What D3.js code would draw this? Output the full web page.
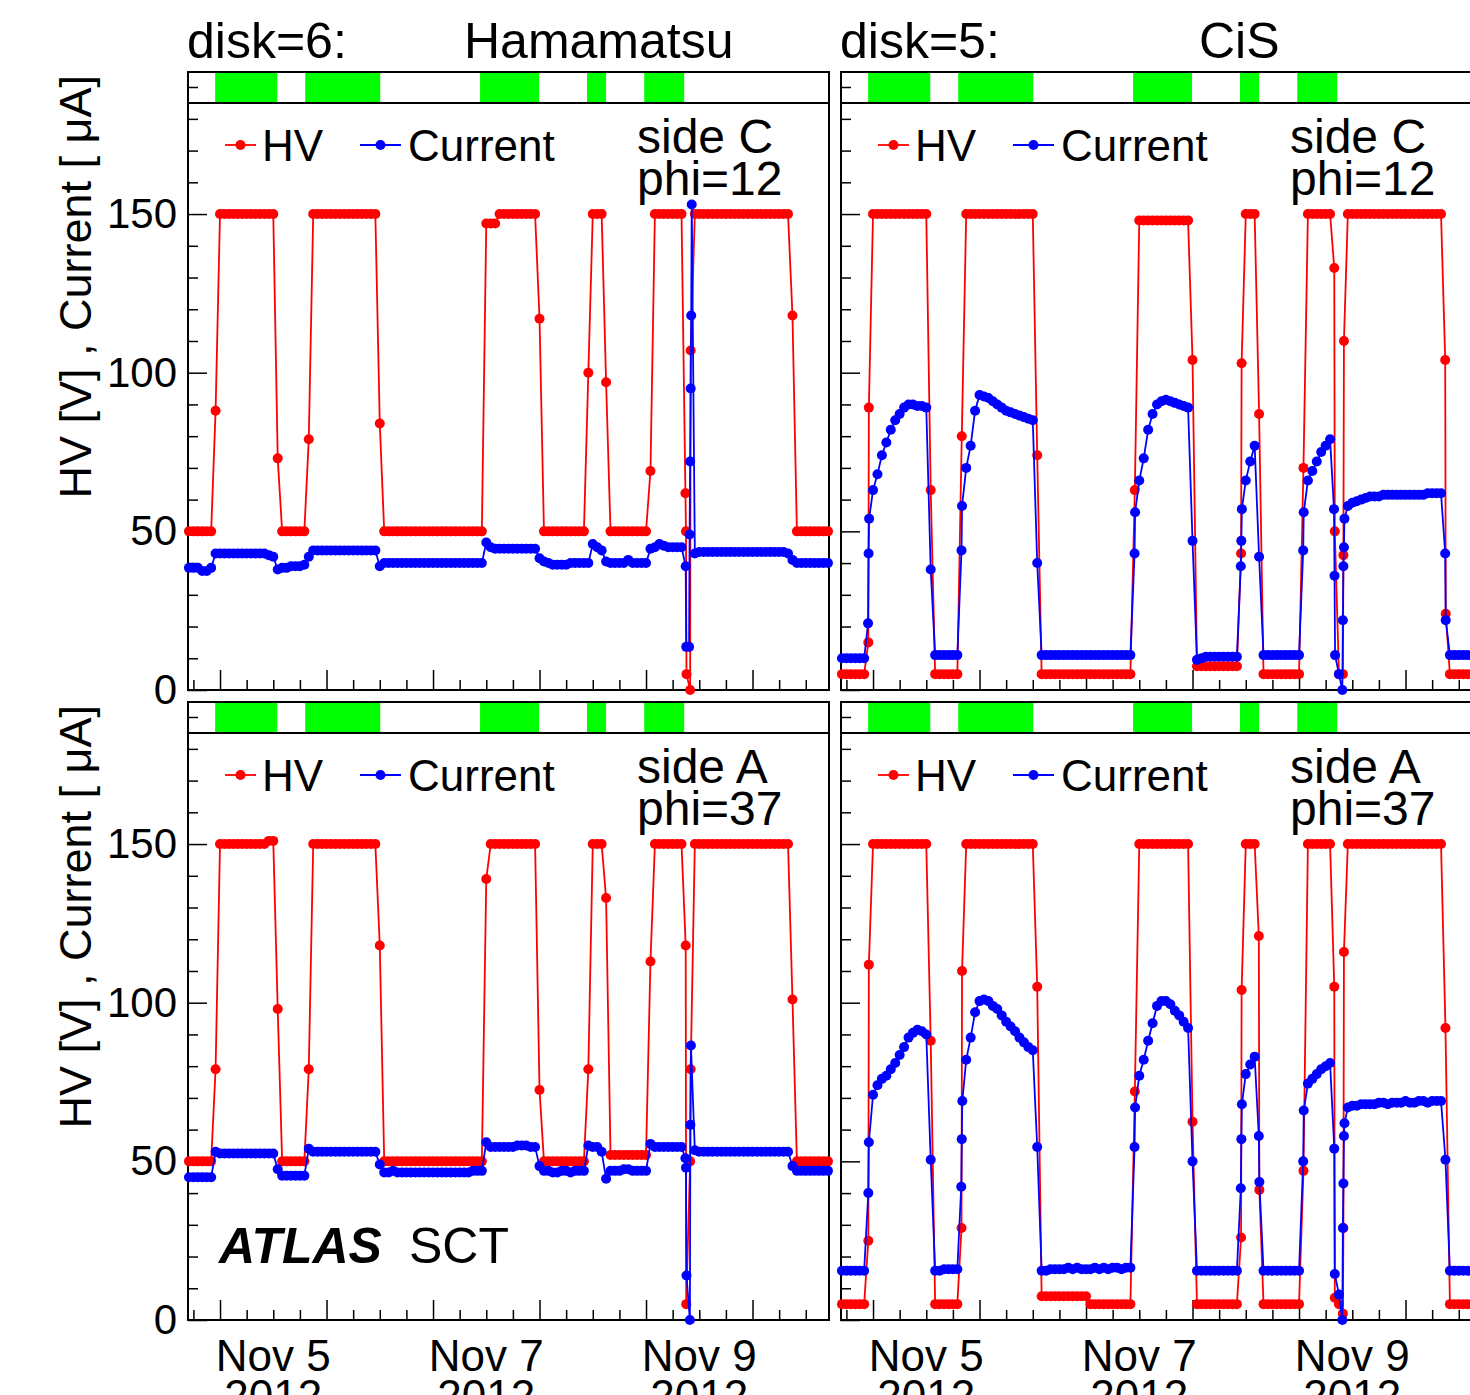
<!DOCTYPE html>
<html>
<head>
<meta charset="utf-8">
<script src="https://cdn.jsdelivr.net/npm/d3@7"></script>
<style>
  body { margin: 0; background: #fff; }
  svg text { font-family: "Liberation Sans", Arial, sans-serif; fill: #000; }
</style>
</head>
<body>
<svg id="chart" width="1470" height="1395"></svg>
<script>
// ---- data ---------------------------------------------------------------
// one reading per hour starting at startTime; an inner list = several readings inside that hour
const startTime = new Date(2012, 10, 4, 17, 0)
const viewStart = new Date(2012, 10, 4, 16, 47)
const viewEnd = new Date(2012, 10, 10, 17, 14)

// stable beam periods (hours after startTime)
const beamStart = [5.9, 26.2, 65.6, 89.7, 102.6]
const beamEnd = [19.9, 43.1, 78.9, 94.0, 111.6]

const dateLabels = ['Nov 5', 'Nov 7', 'Nov 9']
const dateLabelTimes = [new Date(2012, 10, 5, 12), new Date(2012, 10, 7, 12), new Date(2012, 10, 9, 12)]
const yearLabel = '2012'
const yMajorTicks = [0, 50, 100, 150]

// disk=6 Hamamatsu, side C phi=12
const hvC6 = [
  50,50,50,50,50,50,88,150,150,150,
  150,150,150,150,150,150,150,150,150,150,
  73,50,50,50,50,50,50,79,150,150,
  150,150,150,150,150,150,150,150,150,150,
  150,150,150,84,50,50,50,50,50,50,
  50,50,50,50,50,50,50,50,50,50,
  50,50,50,50,50,50,50,147,147,147,
  150,150,150,150,150,150,150,150,150,117,
  50,50,50,50,50,50,50,50,50,50,
  100,150,150,150,97,50,50,50,50,50,
  50,50,50,50,69,150,150,150,150,150,
  150,150,[62,50,5],[0,107],150,150,150,150,150,150,
  150,150,150,150,150,150,150,150,150,150,
  150,150,150,150,150,150,118,50,50,50,
  50,50,50,50,50
]
const curC6 = [
  38.5,38.5,38.5,37.5,37.5,38.5,43,43,43,43,
  43,43,43,43,43,43,43,43,42.5,42,
  38,38.5,38.5,39,39,39,39.5,42,44,44,
  44,44,44,44,44,44,44,44,44,44,
  44,44,44,39,40,40,40,40,40,40,
  40,40,40,40,40,40,40,40,40,40,
  40,40,40,40,40,40,40,46.5,45,44.5,
  44.5,44.5,44.5,44.5,44.5,44.5,44.5,44.5,44.5,41.5,
  40.5,40,39.5,39.5,39.5,39.5,40,40,40,40,
  40,46,45,44,40.5,40,40,40,40,41,
  40,40,40,40,44.5,45,46,45.5,45,45,
  45,45,[39,13.6],[13.6,49,72,95,118,153],43,43.5,43.5,43.5,43.5,43.5,
  43.5,43.5,43.5,43.5,43.5,43.5,43.5,43.5,43.5,43.5,
  43.5,43.5,43.5,43.5,43.5,43,41,40,40,40,
  40,40,40,40,40
]

// disk=5 CiS, side C phi=12
const hvC5 = [
  5,5,5,5,5,5,[15,89],150,150,150,
  150,150,150,150,150,150,150,150,150,150,
  63,5,5,5,5,5,5,80,150,150,
  150,150,150,150,150,150,150,150,150,150,
  150,150,150,150,74,5,5,5,5,5,
  5,5,5,5,5,5,5,5,5,5,
  5,5,5,5,5,5,63,148,148,148,
  148,148,148,148,148,148,148,148,148,104,
  7.5,7.5,7.5,7.5,7.5,7.5,7.5,7.5,7.5,7.5,
  [43,103],150,150,150,87,5,5,5,5,5,
  5,5,5,5,70,150,150,150,150,150,
  150,[133,50],5,[5,42.5,110],150,150,150,150,150,150,
  150,150,150,150,150,150,150,150,150,150,
  150,150,150,150,150,150,[104,24],5,5,5,
  5,5,5,5,5
]
const curC5 = [
  10,10,10,10,10,10,[21,43,54],63,68,74,
  78,82,85,87,89,90,90,89.5,89.5,89,
  38,11,11,11,11,11,11,[44,58],70,77,
  88,93,92.5,92,91,90,89,88,87.5,87,
  86.5,86,85.5,85,40,11,11,11,11,11,
  11,11,11,11,11,11,11,11,11,11,
  11,11,11,11,11,11,[43,56],66,73,82,
  87,90,91,91.5,91,90.5,90,89.5,89,47,
  9.5,10,10.5,10.5,10.5,10.5,10.5,10.5,10.5,10.5,
  [39,47,57],66,72,77,42,11,11,11,11,11,
  11,11,11,11,[44,56],66,69,72,75,77,
  79,[57,36,11],5,[0,22,39,45,54],58,59,59.5,60,60.5,61,
  61,61,61.5,61.5,61.5,61.5,61.5,61.5,61.5,61.5,
  61.5,61.5,62,62,62,62,[43,22],11,11,11,
  11,11,11,11,11
]

// disk=6 Hamamatsu, side A phi=37
const hvA6 = [
  50,50,50,50,50,50,79,150,150,150,
  150,150,150,150,150,150,150,150,151,151,
  98,50,50,50,50,50,50,79,150,150,
  150,150,150,150,150,150,150,150,150,150,
  150,150,150,118,50,50,50,50,50,50,
  50,50,50,50,50,50,50,50,50,50,
  50,50,50,50,50,50,50,139,150,150,
  150,150,150,150,150,150,150,150,150,72.5,
  50,50,50,50,50,50,50,50,50,50,
  79,150,150,150,133,52,52,52,52,52,
  52,52,52,52,113,150,150,150,150,150,
  150,150,[118,5],[50,79],150,150,150,150,150,150,
  150,150,150,150,150,150,150,150,150,150,
  150,150,150,150,150,150,101,50,50,50,
  50,50,50,50,50
]
const curA6 = [
  45,45,45,45,45,45,53,52.5,52.5,52.5,
  52.5,52.5,52.5,52.5,52.5,52.5,52.5,52.5,52.5,52.5,
  47.5,45.5,45.5,45.5,45.5,45.5,45.5,54,53,53,
  53,53,53,53,53,53,53,53,53,53,
  53,53,53,49,46.5,46.5,47,46.5,46.5,46.5,
  46.5,46.5,46.5,46.5,46.5,46.5,46.5,46.5,46.5,46.5,
  46.5,46.5,46.5,46.5,47,47,47,56,54.5,54.5,
  54.5,54.5,54.5,54.5,55,55,55,54.5,54.5,48.5,
  47,47,46.5,46.5,47,47,46.5,47,47,47,
  55,54.5,54.5,53,44.5,47,47,47,47.5,47.5,
  47,47,47,47,55.5,54.5,54.5,54.5,54.5,54.5,
  54.5,54.5,[51,48,14],[0,61.5,86.5],53.5,53,53,53,53,53,
  53,53,53,53,53,53,53,53,53,53,
  53,53,53,53,53,53,48.5,47,47,47,
  47,47,47,47,47
]

// disk=5 CiS, side A phi=37
const hvA5 = [
  5,5,5,5,5,5,[25,112],150,150,150,
  150,150,150,150,150,150,150,150,150,150,
  88,5,5,5,5,5,5,[29,110],150,150,
  150,150,150,150,150,150,150,150,150,150,
  150,150,150,150,105,7.5,7.5,7.5,7.5,7.5,
  7.5,7.5,7.5,7.5,7.5,7.5,5,5,5,5,
  5,5,5,5,5,5,72,150,150,150,
  150,150,150,150,150,150,150,150,150,62.5,
  5,5,5,5,5,5,5,5,5,5,
  [26,104],150,150,150,[121,41],5,5,5,5,5,
  5,5,5,5,47,150,150,150,150,150,
  150,[105,7],5,[2,29,116],150,150,150,150,150,150,
  150,150,150,150,150,150,150,150,150,150,
  150,150,150,150,150,150,92,5,5,5,
  5,5,5,5,5
]
const curA5 = [
  15.5,15.5,15.5,15.5,15.5,15.5,[40,56],71,74,76,
  77,79,81,83.5,86,89,90.5,91.5,91,90,
  50.5,15.5,15.5,16,16,16,16,[42,57,69],82,89,
  97,100.5,101,100.5,99,98,96,94,92.5,91,
  89,87.5,86,85,54.5,15.5,15.5,16,16,16,
  16,16.5,16,16.5,16,16,16,16.5,16,16.5,
  16,16.5,16.5,16,16.5,16.5,[54.5,67],77,82,88,
  93.5,99,100.5,100.5,99.5,97.5,96,94,92,50,
  15.5,15.5,15.5,15.5,15.5,15.5,15.5,15.5,15.5,15.5,
  [41.5,57,68],77.5,80.5,83,[58,43.5],15.5,15.5,15.5,15.5,15.5,
  15.5,15.5,15.5,15.5,[50,66],74.5,76,77.5,79,80,
  81,[54,14.5],8,[0,29,43,58,62],67,67.5,67.5,68,68,68,
  68,68.5,68.5,68,68.5,68.5,68.5,69,68.5,68.5,
  69,69,68.5,69,69,69,50.5,15.5,15.5,15.5,
  15.5,15.5,15.5,15.5,15.5
]

const panels = [
  { col: 0, row: 0, disk: 'disk=6:', maker: 'Hamamatsu', side: 'side C', phi: 'phi=12', hv: hvC6, cur: curC6 },
  { col: 1, row: 0, disk: 'disk=5:', maker: 'CiS', side: 'side C', phi: 'phi=12', hv: hvC5, cur: curC5 },
  { col: 0, row: 1, side: 'side A', phi: 'phi=37', hv: hvA6, cur: curA6 },
  { col: 1, row: 1, side: 'side A', phi: 'phi=37', hv: hvA5, cur: curA5 }
]

// ---- layout -------------------------------------------------------------
const colX = [188, 841]
const rowY = [72, 702]
const plotW = 641, stripH = 31, plotH = 587
const hvColor = '#ff0000', curColor = '#0000ff', beamColor = '#00ff00'
const markerR = 5
const hourMs = 3600e3

const svg = d3.select('#chart')

const toPoints = series => {
  const pts = []
  series.forEach((e, i) => {
    const vals = Array.isArray(e) ? e : [e]
    vals.forEach((v, j) => {
      const h = i + (j - (vals.length - 1) / 2) * 0.12
      pts.push({ t: new Date(+startTime + h * hourMs), v })
    })
  })
  return pts
}

panels.forEach(p => {
  const x0 = colX[p.col], top = rowY[p.row]
  const plotTop = top + stripH, plotBottom = plotTop + plotH

  const x = d3.scaleTime().domain([viewStart, viewEnd]).range([x0, x0 + plotW])
  const y = d3.scaleLinear().domain([0, 185]).range([plotBottom, plotTop])

  const g = svg.append('g')

  // stable-beam strip
  g.selectAll('rect.beam')
    .data(beamStart)
    .join('rect')
    .attr('class', 'beam')
    .attr('x', (d) => x(new Date(+startTime + d * hourMs)))
    .attr('width', (d, i) => x(new Date(+startTime + beamEnd[i] * hourMs)) - x(new Date(+startTime + d * hourMs)))
    .attr('y', top + 1)
    .attr('height', stripH - 2)
    .attr('fill', beamColor)

  g.append('rect')
    .attr('x', x0).attr('y', top)
    .attr('width', plotW).attr('height', stripH)
    .attr('fill', 'none').attr('stroke', '#000').attr('stroke-width', 2)
  g.append('line')
    .attr('x1', x0).attr('x2', x0 + 10)
    .attr('y1', top + stripH / 2).attr('y2', top + stripH / 2)
    .attr('stroke', '#000').attr('stroke-width', 1.5)

  // axes (ticks point inwards, ROOT style)
  const minorY = d3.range(10, 185, 10).filter(v => v % 50 !== 0)
  g.append('g')
    .attr('transform', `translate(${x0},0)`)
    .call(d3.axisLeft(y).tickValues(minorY).tickSize(-10).tickFormat(''))
  g.append('g')
    .attr('transform', `translate(${x0},0)`)
    .call(d3.axisLeft(y).tickValues(yMajorTicks).tickSize(-19).tickPadding(11)
      .tickFormat(p.col === 0 ? d3.format('d') : ''))

  const majorX = d3.timeDay.range(viewStart, viewEnd)
  const minorX = d3.timeHour.every(6).range(viewStart, viewEnd).filter(d => d.getHours() !== 0)
  g.append('g')
    .attr('transform', `translate(0,${plotBottom})`)
    .call(d3.axisBottom(x).tickValues(minorX).tickSize(-10).tickFormat(''))
  g.append('g')
    .attr('transform', `translate(0,${plotBottom})`)
    .call(d3.axisBottom(x).tickValues(majorX).tickSize(-20).tickFormat(''))

  g.selectAll('.domain').remove()
  g.selectAll('.tick line').attr('stroke', '#000').attr('stroke-width', 1.5)
  g.selectAll('.tick text').style('font-size', '42px').attr('fill', '#000')
    .style('font-family', '"Liberation Sans", Arial, sans-serif')

  g.append('rect')
    .attr('x', x0).attr('y', plotTop)
    .attr('width', plotW).attr('height', plotH)
    .attr('fill', 'none').attr('stroke', '#000').attr('stroke-width', 2)

  // date labels under the bottom row
  if (p.row === 1) {
    const lab = g.selectAll('text.date')
      .data(dateLabels)
      .join('text')
      .attr('class', 'date')
      .attr('text-anchor', 'middle')
      .style('font-size', '44px')
    lab.append('tspan')
      .attr('x', (d, i) => x(dateLabelTimes[i]))
      .attr('y', plotBottom + 51)
      .text(d => d)
    lab.append('tspan')
      .attr('x', (d, i) => x(dateLabelTimes[i]))
      .attr('y', plotBottom + 91)
      .text(yearLabel)
  }

  // y title on the left column
  if (p.col === 0) {
    g.append('text')
      .attr('transform', `translate(91,${top + 3}) rotate(-90)`)
      .attr('text-anchor', 'end')
      .style('font-size', '45px')
      .text('HV [V] , Current [ \u03bcA]')
  }

  // series: HV first, current on top
  const line = d3.line().x(d => x(d.t)).y(d => y(d.v))
  ;[[p.hv, hvColor], [p.cur, curColor]].forEach(([series, color]) => {
    const pts = toPoints(series)
    g.append('path')
      .datum(pts)
      .attr('d', line)
      .attr('fill', 'none')
      .attr('stroke', color)
      .attr('stroke-width', 1.8)
    g.append('g')
      .selectAll('circle')
      .data(pts)
      .join('circle')
      .attr('cx', d => x(d.t))
      .attr('cy', d => y(d.v))
      .attr('r', markerR)
      .attr('fill', color)
  })

  // legend
  const legY = plotTop + 42
  const leg = [
    { label: 'HV', color: hvColor, x1: 37, x2: 68, tx: 74 },
    { label: 'Current', color: curColor, x1: 172, x2: 213, tx: 220 }
  ]
  leg.forEach(l => {
    g.append('line')
      .attr('x1', x0 + l.x1).attr('x2', x0 + l.x2)
      .attr('y1', legY).attr('y2', legY)
      .attr('stroke', l.color).attr('stroke-width', 1.8)
    g.append('circle')
      .attr('cx', x0 + (l.x1 + l.x2) / 2).attr('cy', legY).attr('r', markerR)
      .attr('fill', l.color)
    g.append('text')
      .attr('x', x0 + l.tx).attr('y', legY + 16)
      .style('font-size', '44px')
      .text(l.label)
  })

  g.append('text')
    .attr('x', x0 + 449).attr('y', plotTop + 50)
    .style('font-size', '48px')
    .text(p.side)
  g.append('text')
    .attr('x', x0 + 449).attr('y', plotTop + 92)
    .style('font-size', '48px')
    .text(p.phi)

  if (p.row === 0) {
    g.append('text')
      .attr('x', x0 - 1).attr('y', top - 14)
      .style('font-size', '50px')
      .text(p.disk)
    g.append('text')
      .attr('x', x0 + (p.col === 0 ? 276 : 358)).attr('y', top - 14)
      .style('font-size', '50px')
      .text(p.maker)
  }

  if (p.row === 1 && p.col === 0) {
    g.append('text')
      .attr('x', x0 + 31).attr('y', plotBottom - 57)
      .style('font-size', '50px')
      .style('font-weight', 'bold')
      .style('font-style', 'italic')
      .text('ATLAS')
    g.append('text')
      .attr('x', x0 + 221).attr('y', plotBottom - 57)
      .style('font-size', '50px')
      .text('SCT')
  }
})
</script>
</body>
</html>
